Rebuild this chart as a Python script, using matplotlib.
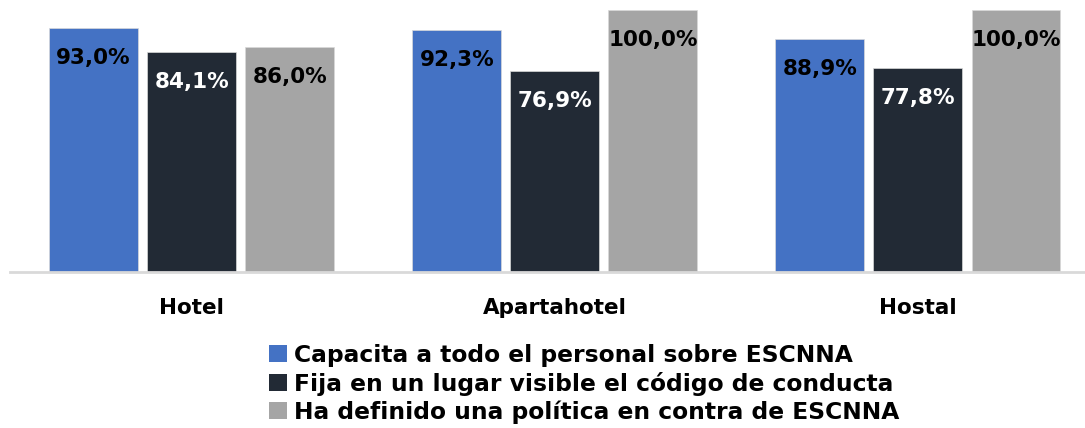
import numpy as np
import matplotlib.pyplot as plt
from matplotlib.patches import Patch

categories = ['Hotel', 'Apartahotel', 'Hostal']
series_names = ['Capacita a todo el personal sobre ESCNNA',
                'Fija en un lugar visible el código de conducta',
                'Ha definido una política en contra de ESCNNA']
capacita = [93.0, 92.3, 88.9]
fija = [84.1, 76.9, 77.8]
politica = [86.0, 100.0, 100.0]

colors = ['#4472C4', '#222A35', '#A5A5A5']
text_colors = ['black', 'white', 'black']

plt.rcParams['font.family'] = ['DejaVu Sans']
plt.rcParams['font.weight'] = 'bold'

fig = plt.figure(figsize=(10.85, 4.28), dpi=100)
ax = fig.add_axes([10 / 1085, 1 - 272 / 428, 1 - 10 / 1085, 262 / 428])

x = np.arange(len(categories))
width = 0.245
step = 0.27
for k, vals in enumerate([capacita, fija, politica]):
    pos = x + (k - 1) * step
    ax.bar(pos, vals, width, color=colors[k], edgecolor='#D9D9D9', linewidth=0.5)
    for p, v in zip(pos, vals):
        lbl = ('%.1f%%' % v).replace('.', ',')
        ax.text(p, v - 11.5, lbl, ha='center', va='center', color=text_colors[k],
                fontsize=15.5, fontweight='bold')

ax.set_xlim(-0.5, 2.46)
ax.set_ylim(0, 100)
ax.set_yticks([])
ax.set_xticks(x)
ax.set_xticklabels(categories, fontsize=15.5, fontweight='bold')
ax.tick_params(axis='x', length=0, pad=18.5)
for s in ['top', 'right', 'left']:
    ax.spines[s].set_visible(False)
ax.spines['bottom'].set_color('#D9D9D9')
ax.spines['bottom'].set_linewidth(2)

handles = [Patch(facecolor=c) for c in colors]
fig.legend(handles, series_names, loc='center', bbox_to_anchor=(584 / 1085, 1 - 384 / 428),
           frameon=False, fontsize=16.8, handlelength=0.75, handleheight=0.75,
           handletextpad=0.3, labelspacing=0.2, borderpad=0)

fig.savefig('out.png', dpi=100)
